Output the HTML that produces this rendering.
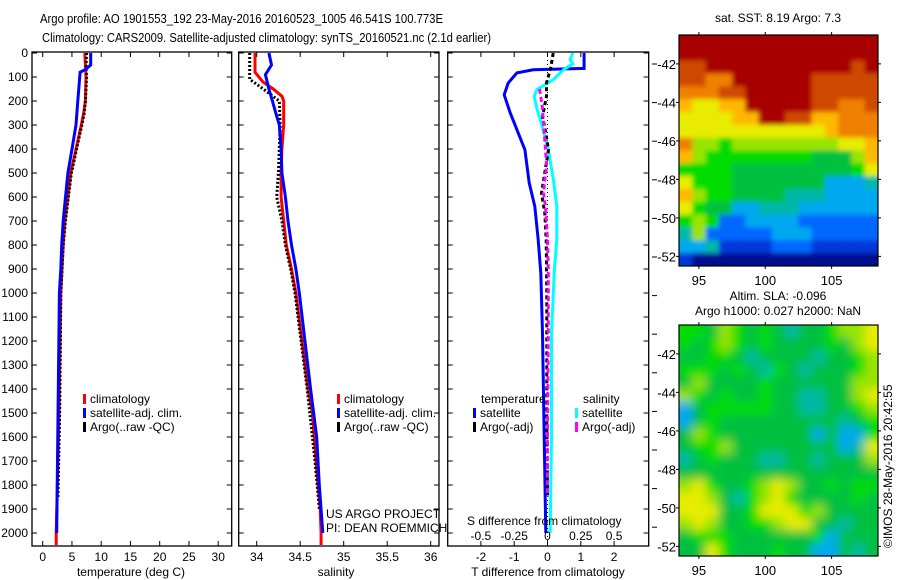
<!DOCTYPE html>
<html><head><meta charset="utf-8"><style>
body{margin:0;background:#fff;}
svg{display:block;font-family:"Liberation Sans",sans-serif;}
text{fill:#000;}
</style></head><body>
<svg id="fig" width="900" height="580" viewBox="0 0 900 580">
<defs>
<filter id="blurA" x="-5%" y="-5%" width="110%" height="110%"><feGaussianBlur stdDeviation="2.5"/></filter>
<filter id="blurB" x="-5%" y="-5%" width="110%" height="110%"><feGaussianBlur stdDeviation="5"/></filter>
<clipPath id="clip1"><rect x="679" y="35" width="199" height="231"/></clipPath>
<clipPath id="clip2"><rect x="679" y="325" width="199" height="231"/></clipPath>
</defs>
<text x="40" y="23" font-size="13" textLength="403" lengthAdjust="spacingAndGlyphs">Argo profile: AO 1901553_192 23-May-2016 20160523_1005 46.541S 100.773E</text>
<text x="42" y="42" font-size="13" textLength="449" lengthAdjust="spacingAndGlyphs">Climatology: CARS2009. Satellite-adjusted climatology: synTS_20160521.nc (2.1d earlier)</text>
<g id="g1"></g>
<g id="g2"></g>
<g id="g3"></g>
<g id="m1"></g>
<g id="m2"></g>
<text x="778" y="22" font-size="12" text-anchor="middle">sat. SST: 8.19 Argo: 7.3</text>
<text x="778" y="300" font-size="12" text-anchor="middle">Altim. SLA: -0.096</text>
<text x="778" y="315" font-size="12" text-anchor="middle">Argo h1000: 0.027 h2000: NaN</text>
<text transform="translate(892,548) rotate(-90)" font-size="12">©IMOS 28-May-2016 20:42:55</text>
</svg>
<script>
// ---- data ----
const depthTicks=[0,100,200,300,400,500,600,700,800,900,1000,1100,1200,1300,1400,1500,1600,1700,1800,1900,2000];
const tempTicks=[0,5,10,15,20,25,30];
const salTicks=[34,34.5,35,35.5,36];
const tdiffTicks=[-2,-1,0,1,2];
const sdiffTicks=[-0.5,-0.25,0,0.25,0.5];
const climTDepth=[0,50,100,200,250,300,400,500,600,700,800,900,1000,1500,2000,2050];
const climT=[7.2,7.3,7.4,7.3,7.0,6.6,5.7,4.8,4.3,3.8,3.5,3.3,3.1,2.8,2.3,2.3];
const satTDepth=[0,50,70,80,200,300,400,500,600,700,800,900,1000,1400,2000];
const satT=[8.2,8.2,7.2,6.4,6.0,5.7,5.0,4.3,3.9,3.5,3.25,3.1,2.85,2.67,2.4];
const argoTDepth=[0,60,100,200,250,300,400,500,600,700,800,900,1000,1500,1850];
const argoT=[7.5,7.4,7.5,7.3,7.1,6.7,5.8,4.9,4.4,3.9,3.5,3.3,3.1,2.9,2.6];
const climSDepth=[0,80,120,150,180,200,300,400,500,600,700,800,900,1000,1400,1500,1700,1900,2000,2050];
const climS=[33.98,33.98,34.07,34.19,34.29,34.31,34.31,34.29,34.28,34.28,34.31,34.34,34.40,34.45,34.59,34.64,34.68,34.73,34.74,34.74];
const satSDepth=[0,50,90,150,200,250,300,400,500,600,700,800,900,1000,1400,1600,1800,2000];
const satS=[34.14,34.17,34.10,34.14,34.18,34.22,34.26,34.28,34.29,34.33,34.36,34.40,34.45,34.49,34.62,34.69,34.72,34.76];
const argoSDepth=[0,110,130,170,200,300,500,600,700,800,900,1000,1400,1700,1900];
const argoS=[33.92,33.92,34.0,34.15,34.26,34.27,34.25,34.23,34.29,34.33,34.39,34.44,34.58,34.67,34.72];
const tdSatDepth=[0,28,64,70,83,125,174,249,333,403,541,639,778,917,1167,1600,2000];
const tdSat=[1.1,1.1,1.1,-0.43,-0.92,-1.18,-1.3,-1.12,-0.88,-0.68,-0.55,-0.38,-0.28,-0.2,-0.15,-0.1,-0.05];
const sdSatDepth=[0,28,45,70,111,153,181,230,306,403,528,639,778,917,1167,1600,2000];
const sdSat=[0.19,0.17,0.19,0.12,0.044,-0.08,-0.1,-0.08,-0.04,0.006,0.044,0.07,0.07,0.05,0.03,0.03,0.02];
const tdArgoDepth=[0,60,125,180,264,333,403,584,667,778,1000,1500,1850];
const tdArgo=[0.17,0.1,-0.03,-0.03,-0.15,-0.05,0.03,-0.18,-0.08,-0.04,-0.02,-0.02,0];
const sdArgoDepth=[150,220,472,528,584,639,778,917,1167,1600,1850];
const sdArgo=[-0.06,-0.04,-0.006,-0.02,-0.03,-0.015,0,0.006,0.006,0,0];
const lonTicks=[95,100,105];
const latTicks=[-42,-44,-46,-48,-50,-52];
const sstGrid=["ccccccccccccccc","ccccccccccccccc","bbcccccccccccbc","bbaaccccccbbbbb","aaabbcccccbbbbb","98899cccccbbaab","888899ccbb99aaa","888888888889aaa","a77677777777889","976666666655579","666655555555568","866655555553334","976655554443333","865533444333333","676223333222222","472222233322222","334111122211111","100000000000000"];
const slaGrid=["665765654556778","656765655556578","556654555545567","666565465455567","575555655555577","765655655445578","356666655445567","356555555555456","576555555535336","566755555555348","456555445545557","555555555555555","786556787556566","887546786555565","888556888675555","787556678855455","566655555563555","558655565533545"];
const palette={"0":"#00108f","1":"#0038d8","2":"#0068ff","3":"#00a8f0","4":"#00b8a8","5":"#00c040","6":"#00dc00","7":"#98e400","8":"#e8ec00","9":"#ffb800","a":"#f08000","b":"#d04800","c":"#a80000"};

const NS="http://www.w3.org/2000/svg";
function mk(tag,attrs,parent){const e=document.createElementNS(NS,tag);for(const k in attrs)e.setAttribute(k,attrs[k]);parent.appendChild(e);return e;}
const TOP=52,BOT=546;
const yD=d=>53+d*0.24;

function panelFrame(g,x0,x1,ticks,xf,labels){
  const r=mk('rect',{x:x0,y:TOP,width:x1-x0,height:BOT-TOP,fill:'none',stroke:'#000','stroke-width':1.3},g);
  
  
  ticks.forEach((t,i)=>{const x=xf(t);
    const l1=mk('line',{x1:x,x2:x,y1:BOT,y2:BOT-5,stroke:'#000'},g);
    
    
    mk('line',{x1:x,x2:x,y1:TOP,y2:TOP+5,stroke:'#000'},g);
    if(labels){const tx=mk('text',{x:x,y:561,'font-size':12,'text-anchor':'middle'},g);tx.textContent=labels[i];
      
      }
  });
  depthTicks.forEach(d=>{const y=yD(d);
    const l=mk('line',{x1:x0,x2:x0+5,y1:y,y2:y,stroke:'#000'},g);
    
    
    mk('line',{x1:x1,x2:x1-5,y1:y,y2:y,stroke:'#000'},g);
  });
}
function series(g,xs,ds,xf,color,name,dash){
  const pts=xs.map((v,i)=>xf(v).toFixed(1)+','+yD(ds[i]).toFixed(1)).join(' ');
  const p=mk('polyline',{points:pts,fill:'none',stroke:color,'stroke-width':3},g);
  if(dash)p.setAttribute('stroke-dasharray',dash);
  
  
}
function txt(g,x,y,s,name,opts){const t=mk('text',Object.assign({x:x,y:y,'font-size':12},opts||{}),g);t.textContent=s;
  
  return t;}
function legend(g,x,y,color,label,name){
  const r=mk('rect',{x:x,y:y-9,width:3,height:10,fill:color},g);
  
  
  txt(g,x+7,y,label,name);
}

// Panel 1
const g1=document.getElementById('g1');
const xT=t=>42.7+t*5.85;
panelFrame(g1,32,231.7,tempTicks,xT,tempTicks.map(String));
depthTicks.forEach(d=>txt(g1,28,yD(d)+4,String(d),'y-tick-label',{'text-anchor':'end'}));
series(g1,climT,climTDepth,xT,'#ff0000','climatology-temp-line');
series(g1,argoT,argoTDepth,xT,'#000','argo-temp-line','2,2');
series(g1,satT,satTDepth,xT,'#0000ff','satellite-temp-line');
legend(g1,83,403,'#f00','climatology','legend-climatology');
legend(g1,83,417,'#00f','satellite-adj. clim.','legend-satellite');
legend(g1,83,431,'#000','Argo(..raw -QC)','legend-argo');
txt(g1,131,576,'temperature (deg C)','x-axis-title',{'text-anchor':'middle'});

// Panel 2
const g2=document.getElementById('g2');
const xS=s=>256.7+(s-34)*87;
panelFrame(g2,238.7,439,salTicks,xS,['34','34.5','35','35.5','36']);
series(g2,climS,climSDepth,xS,'#ff0000','climatology-salinity-line');
series(g2,argoS,argoSDepth,xS,'#000','argo-salinity-line','2,2');
series(g2,satS,satSDepth,xS,'#0000ff','satellite-salinity-line');
legend(g2,337,403,'#f00','climatology','legend-climatology');
legend(g2,337,417,'#00f','satellite-adj. clim.','legend-satellite');
legend(g2,337,431,'#000','Argo(..raw -QC)','legend-argo');
txt(g2,326,518,'US ARGO PROJECT','credit-project');
txt(g2,326,532,'PI: DEAN ROEMMICH','credit-pi');
txt(g2,336,576,'salinity','x-axis-title',{'text-anchor':'middle'});

// Panel 3
const g3=document.getElementById('g3');
const xTD=d=>547.5+d*33.3;
const xSD=s=>547.5+s*133.2;
panelFrame(g3,447.7,648.7,tdiffTicks,xTD,['-2','-1','0','1','2']);
const zl=mk('line',{x1:547.5,x2:547.5,y1:TOP,y2:BOT,stroke:'#000','stroke-dasharray':'1,3'},g3);


series(g3,tdSat,tdSatDepth,xTD,'#0000ff','temp-diff-satellite-line');
series(g3,sdSat,sdSatDepth,xSD,'#00ffff','sal-diff-satellite-line');
series(g3,tdArgo,tdArgoDepth,xTD,'#000','temp-diff-argo-line','4,3');
series(g3,sdArgo,sdArgoDepth,xSD,'#ff00ff','sal-diff-argo-line','5,3');
txt(g3,481,403,'temperature','legend-temperature-heading');
legend(g3,473,417,'#00f','satellite','legend-temp-satellite');
legend(g3,473,431,'#000','Argo(-adj)','legend-temp-argo');
txt(g3,583,403,'salinity','legend-salinity-heading');
legend(g3,575,417,'#0ff','satellite','legend-sal-satellite');
legend(g3,575,431,'#f0f','Argo(-adj)','legend-sal-argo');
txt(g3,467,525,'S difference from climatology','s-axis-title');
sdiffTicks.forEach(s=>txt(g3,xSD(s),540,String(s),'s-tick-label',{'text-anchor':'middle'}));
txt(g3,548,576,'T difference from climatology','x-axis-title',{'text-anchor':'middle'});
for(let y=64;y<=547;y+=38.6){const l=mk('line',{x1:652,x2:657,y1:y,y2:y,stroke:'#000'},g3);
  
  }

// Maps
function drawMap(id,grid,y0,labY,clip,filt){
  const g=document.getElementById(id);
  const x0=679,x1=878,y1=y0+231;
  const lon=l=>679+(l-93.5)*13.27;
  const lat=a=>y0+(-40.5-a)*19.25;
  const cw=(x1-x0)/grid[0].length,ch=(y1-y0)/grid.length;
  const cg=mk('g',{'clip-path':'url(#'+clip+')'},g);
  const cells=mk('g',{filter:'url(#'+filt+')'},cg);
  grid.forEach((row,r)=>{[...row].forEach((c,k)=>{
    const cell=mk('rect',{x:(x0+k*cw-(k==0?8:0)).toFixed(2),y:(y0+r*ch-(r==0?8:0)).toFixed(2),width:(cw+0.6+(k==0||k==row.length-1?8:0)).toFixed(2),height:(ch+0.6+(r==0||r==grid.length-1?8:0)).toFixed(2),fill:palette[c]},cells);
    
    
  });});
  const fr=mk('rect',{x:x0,y:y0,width:x1-x0,height:y1-y0,fill:'none',stroke:'#000','stroke-width':1.2},g);
  
  
  lonTicks.forEach(l=>{const x=lon(l);
    mk('line',{x1:x,x2:x,y1:y0-3,y2:y0,stroke:'#000'},g);
    mk('line',{x1:x,x2:x,y1:y1,y2:y1+3,stroke:'#000'},g);
    txt(g,x,labY,String(l),'lon-tick-label',{'text-anchor':'middle','font-size':13});});
  latTicks.forEach(a=>{const y=lat(a);
    mk('line',{x1:x0-3,x2:x0,y1:y,y2:y,stroke:'#000'},g);
    mk('line',{x1:x1,x2:x1+3,y1:y,y2:y,stroke:'#000'},g);
    txt(g,676,y+5,String(a),'lat-tick-label',{'text-anchor':'end','font-size':13});});
}
drawMap('m1',sstGrid,35,285,'clip1','blurA');
drawMap('m2',slaGrid,325,575,'clip2','blurB');
</script>
</body></html>
